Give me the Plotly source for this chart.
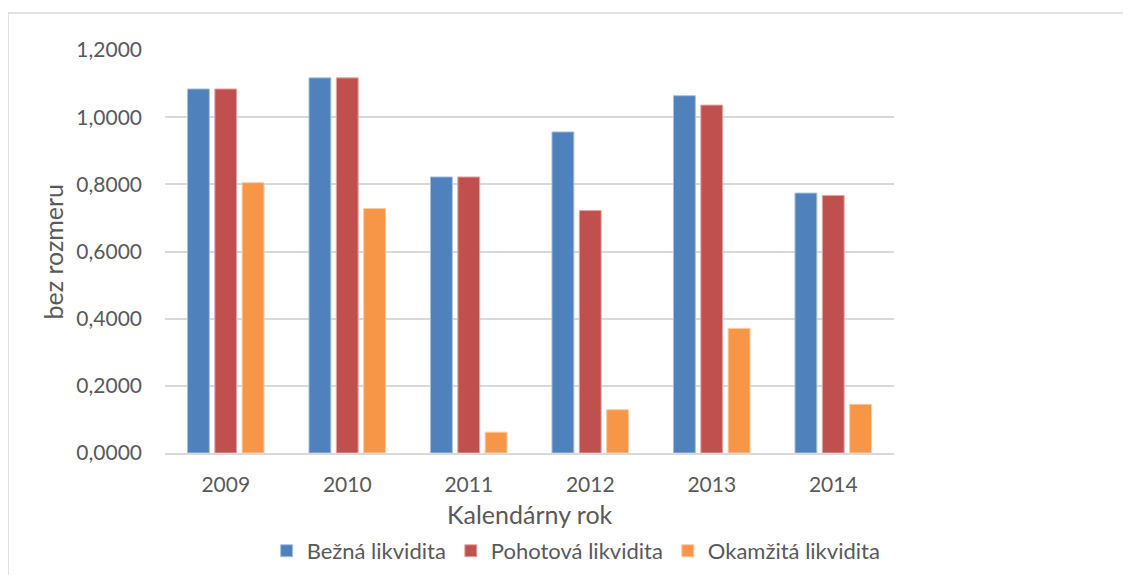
import plotly.graph_objects as go

roky = ['2009', '2010', '2011', '2012', '2013', '2014']
bezna = [1.084, 1.117, 0.822, 0.956, 1.064, 0.774]
pohotova = [1.084, 1.117, 0.822, 0.722, 1.036, 0.767]
okamzita = [0.805, 0.728, 0.062, 0.129, 0.371, 0.145]
y_ticks = [0, 0.2, 0.4, 0.6, 0.8, 1.0, 1.2]

font = 'Lato, Open Sans, sans-serif'
grey = '#595959'

fig = go.Figure()
fig.add_trace(go.Bar(x=roky, y=bezna, name='Bežná likvidita',
                     marker=dict(color='#4F81BD', line=dict(color='#A9C0DE', width=1))))
fig.add_trace(go.Bar(x=roky, y=pohotova, name='Pohotová likvidita',
                     marker=dict(color='#C0504D', line=dict(color='#E0A8A6', width=1))))
fig.add_trace(go.Bar(x=roky, y=okamzita, name='Okamžitá likvidita',
                     marker=dict(color='#F79646', line=dict(color='#FBCBA2', width=1))))

# light chart border (left + top visible)
fig.add_shape(type='rect', xref='paper', yref='paper',
              x0=-0.2154, x1=1.5, y0=-0.6, y1=1.0916,
              line=dict(color='#D9D9D9', width=1.5), layer='below')

# axis titles
fig.add_annotation(text='bez rozmeru', xref='paper', yref='paper', x=-0.155, y=0.5,
                   textangle=-90, showarrow=False, xanchor='center', yanchor='middle',
                   font=dict(size=25, color=grey))
fig.add_annotation(text='Kalendárny rok', xref='paper', yref='paper', x=0.5, y=-0.151,
                   showarrow=False, xanchor='center', yanchor='middle',
                   font=dict(size=25, color=grey))

# page body has an 8px margin, so shift the plot up/left by 8
fig.update_layout(
    width=1131, height=575,
    paper_bgcolor='white', plot_bgcolor='white',
    margin=dict(l=157, r=245, t=42, b=129),
    barmode='group', bargap=0.325, bargroupgap=0.2,
    separators=', ',
    font=dict(family=font, color=grey, size=21),
    xaxis=dict(showgrid=False, showline=True, linecolor='#D9D9D9', linewidth=2,
               ticks='', tickfont=dict(size=21, color=grey), automargin=False,
               ticklabelstandoff=12),
    yaxis=dict(range=[0, 1.2], tickvals=y_ticks, tickformat='.4f',
               showgrid=True, gridcolor='#D9D9D9', gridwidth=2,
               zeroline=False, showline=False, ticks='', automargin=False,
               ticklabelstandoff=22,
               tickfont=dict(size=21, color=grey)),
    legend=dict(orientation='h', x=0.564, y=-0.24, xanchor='center', yanchor='middle',
                font=dict(size=22, color=grey), itemwidth=30, traceorder='normal'),
)

fig.write_html("out.html")
